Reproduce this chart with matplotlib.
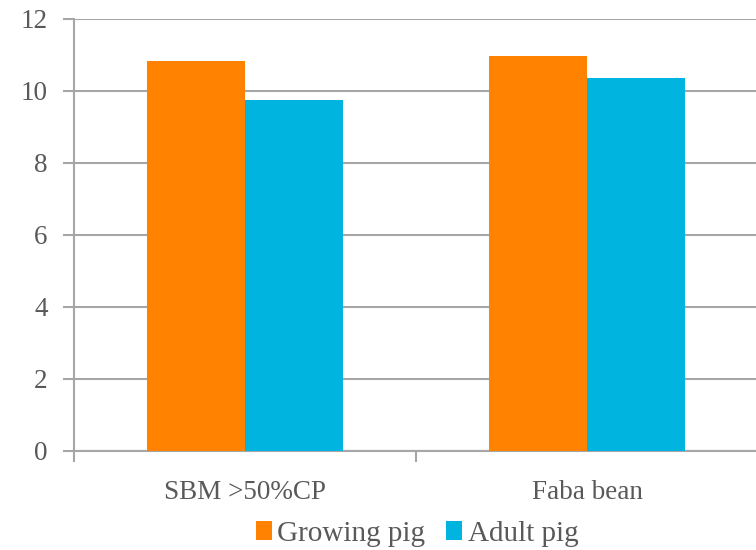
import matplotlib
matplotlib.use("Agg")
import matplotlib.pyplot as plt
import numpy as np

categories = ["SBM >50%CP", "Faba bean"]
series_names = ["Growing pig", "Adult pig"]
growing_pig = [10.81, 10.96]
adult_pig = [9.74, 10.35]
y_ticks = [0, 2, 4, 6, 8, 10, 12]

colors = ["#FF8200", "#00B4E0"]
grid_color = "#A6A6A6"
text_color = "#595959"
serif = ["Liberation Serif", "DejaVu Serif"]

fig = plt.figure(figsize=(7.56, 5.50), dpi=100)
ax = fig.add_axes([74 / 756, 99 / 550, 684 / 756, 432.5 / 550])

x = np.arange(len(categories))
width = 0.2865
ax.bar(x - width / 2, growing_pig, width, color=colors[0], label=series_names[0], zorder=3)
ax.bar(x + width / 2, adult_pig, width, color=colors[1], label=series_names[1], zorder=3)

ax.set_xlim(-0.5, len(categories) - 0.5)
ax.set_ylim(0, 12)
ax.set_yticks(y_ticks)
ax.set_yticklabels([str(v) for v in y_ticks], family=serif, fontsize=19.5, color=text_color)

# category labels centred under each group, ticks at group boundaries
ax.set_xticks(np.arange(len(categories) + 1) - 0.5)
ax.set_xticklabels([])
ax.set_xticks(x, minor=True)
ax.set_xticklabels(categories, minor=True, family=serif, fontsize=19.5, color=text_color)
ax.tick_params(axis="x", which="minor", length=0, pad=21)
ax.tick_params(axis="x", which="major", length=8, width=1.5, color=grid_color)
ax.tick_params(axis="y", length=8, width=1.5, color=grid_color, pad=11)

ax.yaxis.grid(True, color=grid_color, linewidth=1.5, zorder=0)
ax.set_axisbelow(True)
for side in ["top", "right"]:
    ax.spines[side].set_visible(False)
for side in ["left", "bottom"]:
    ax.spines[side].set_color(grid_color)
    ax.spines[side].set_linewidth(1.5)

leg = fig.legend(loc="lower center", bbox_to_anchor=(417 / 756, -0.042), ncol=2, frameon=False,
                 prop={"family": serif, "size": 21}, handlelength=0.55, handleheight=0.6,
                 handletextpad=0.2, columnspacing=0.7)
for t in leg.get_texts():
    t.set_color(text_color)

fig.savefig("out.png", dpi=100)
